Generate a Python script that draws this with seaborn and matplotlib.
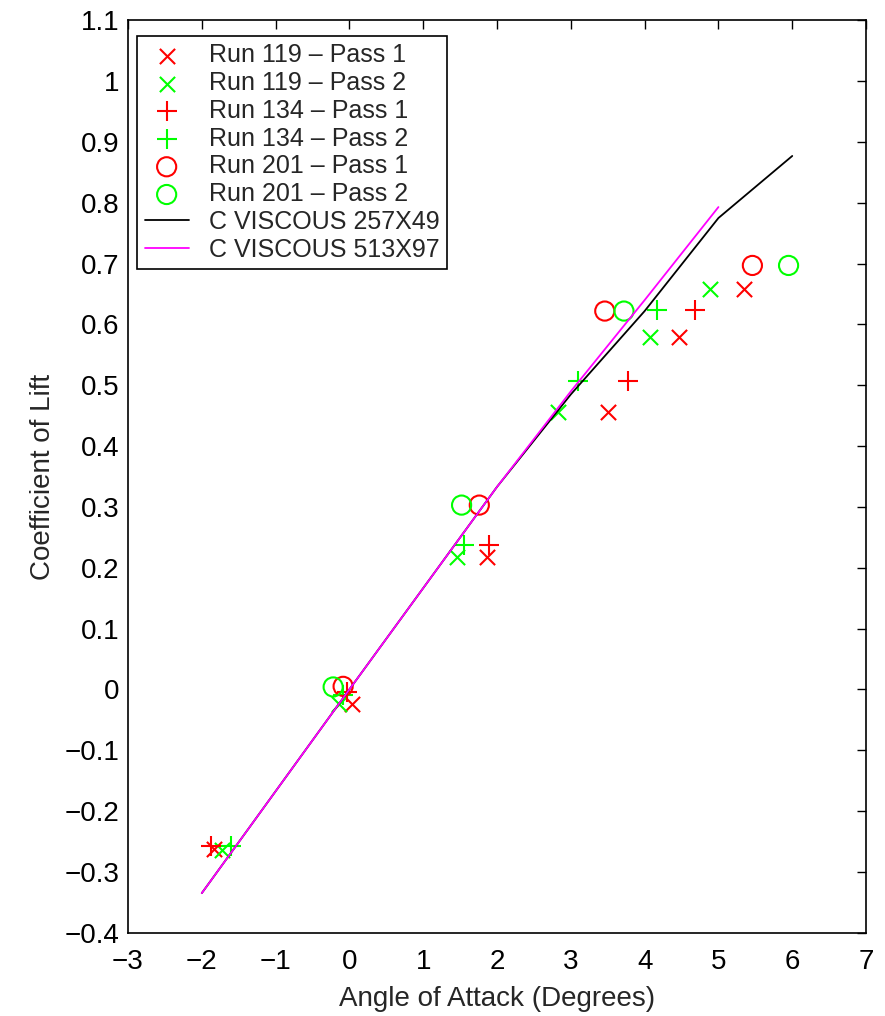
import matplotlib
matplotlib.use("Agg")
import matplotlib.pyplot as plt
import seaborn as sns
import pandas as pd

# Data
r119p1_x = [-1.83, 0.04, 1.86, 3.51, 4.47, 5.35]
r119p1_y = [-0.262, -0.024, 0.217, 0.456, 0.580, 0.658]
r119p2_x = [-1.72, -0.14, 1.46, 2.83, 4.07, 4.88]
r119p2_y = [-0.264, -0.024, 0.217, 0.456, 0.580, 0.658]
r134p1_x = [-1.87, -0.03, 1.885, 3.78, 4.68]
r134p1_y = [-0.257, -0.005, 0.238, 0.507, 0.623]
r134p2_x = [-1.60, -0.08, 1.55, 3.10, 4.17]
r134p2_y = [-0.257, -0.010, 0.238, 0.507, 0.623]
r201p1_x = [-0.085, 1.76, 3.46, 5.46]
r201p1_y = [0.005, 0.303, 0.622, 0.697]
r201p2_x = [-0.22, 1.52, 3.72, 5.95]
r201p2_y = [0.004, 0.303, 0.622, 0.697]
v257_x = [-2, 0, 2, 3, 4, 5, 6]
v257_y = [-0.335, 0.0, 0.333, 0.485, 0.622, 0.775, 0.877]
v513_x = [-2, 0, 2, 3, 4, 5]
v513_y = [-0.335, 0.0, 0.333, 0.490, 0.640, 0.793]

sns.set_style("white")
plt.rcParams['font.family'] = ['Liberation Sans', 'DejaVu Sans']

fig = plt.figure(figsize=(8.85, 10.16), dpi=100)
ax = fig.add_axes([0.1446, 0.082, 0.834, 0.898])

RED = (1, 0, 0)
GREEN = (0, 1, 0)

def scat(xs, ys, marker, color, label, s):
    df = pd.DataFrame({"x": xs, "y": ys})
    if marker == 'o':
        sns.scatterplot(data=df, x="x", y="y", marker='o', s=s, facecolors='none',
                        edgecolor=color, linewidth=1.5, label=label, ax=ax, zorder=3)
    else:
        sns.scatterplot(data=df, x="x", y="y", marker=marker, s=s, color=color,
                        linewidth=1.5, label=label, ax=ax, zorder=3)

scat(r119p1_x, r119p1_y, 'x', RED, 'Run 119 \u2013 Pass 1', 120)
scat(r119p2_x, r119p2_y, 'x', GREEN, 'Run 119 \u2013 Pass 2', 120)
scat(r134p1_x, r134p1_y, '+', RED, 'Run 134 \u2013 Pass 1', 200)
scat(r134p2_x, r134p2_y, '+', GREEN, 'Run 134 \u2013 Pass 2', 200)
scat(r201p1_x, r201p1_y, 'o', RED, 'Run 201 \u2013 Pass 1', 190)
scat(r201p2_x, r201p2_y, 'o', GREEN, 'Run 201 \u2013 Pass 2', 190)

sns.lineplot(x=v257_x, y=v257_y, color='black', linewidth=1.3, sort=False,
             estimator=None, label='C VISCOUS 257X49', ax=ax, zorder=4)
sns.lineplot(x=v513_x, y=v513_y, color=(1, 0, 1), linewidth=1.3, sort=False,
             estimator=None, label='C VISCOUS 513X97', ax=ax, zorder=4)

ax.set_xlim(-3, 7)
ax.set_ylim(-0.4, 1.1)
ax.set_xticks(range(-3, 8))
yt = [round(-0.4 + 0.1 * i, 1) for i in range(16)]
ax.set_yticks(yt)
ax.set_yticklabels([('%g' % v).replace('-', '\u2212') for v in yt])
ax.set_xticklabels([('%d' % v).replace('-', '\u2212') for v in range(-3, 8)])
ax.tick_params(direction='in', length=6.5, width=1, top=True, right=True,
               labelsize=20, pad=6, color='black', labelcolor='black')
ax.tick_params(axis='x', pad=12)
for sp in ax.spines.values():
    sp.set_visible(True)
    sp.set_color('black')
    sp.set_linewidth(1.2)

ax.set_xlabel('Angle of Attack (Degrees)', fontsize=20, labelpad=8)
ax.set_ylabel('Coefficient of Lift', fontsize=20, labelpad=6)

leg = ax.legend(loc='upper left', bbox_to_anchor=(0.0126, 0.983), fontsize=18,
                frameon=True, fancybox=False, framealpha=1, edgecolor='black',
                borderpad=0.3, labelspacing=0.15, handlelength=1.75,
                handletextpad=0.8, borderaxespad=0)
leg.get_frame().set_linewidth(1.2)

fig.savefig('out.png', dpi=100)
